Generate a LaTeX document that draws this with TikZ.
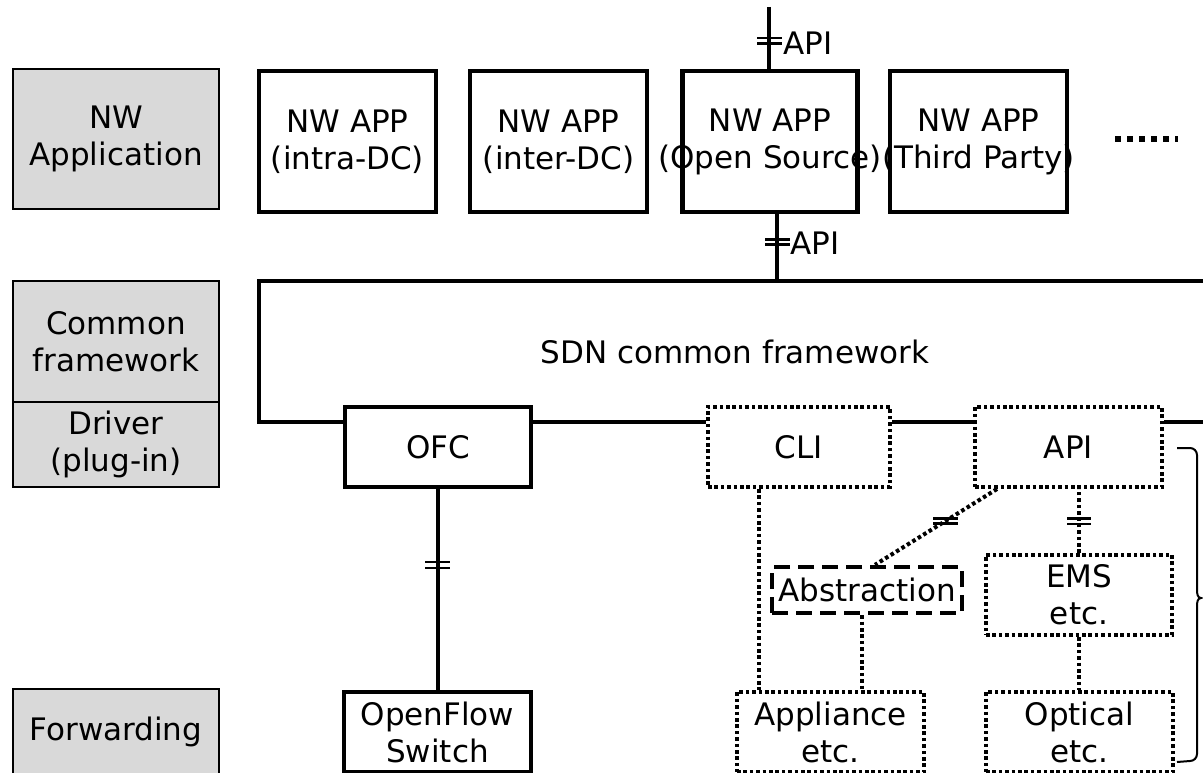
\documentclass[tikz,border=0pt]{standalone}
\usepackage{fontspec}
\setmainfont{DejaVu Sans}
\definecolor{laygray}{HTML}{D9D9D9}
\begin{document}
\begin{tikzpicture}[x=1pt,y=-1pt,
  every node/.style={font=\fontsize{31}{37}\selectfont, align=center, inner sep=0pt},
  layer/.style={draw, line width=1.4pt, fill=laygray, minimum width=206},
  solidbox/.style={draw, line width=4.6pt},
  dotbox/.style={draw, line width=4pt, dash pattern=on 3.6pt off 2.8pt},
  dashbox/.style={draw, line width=4.4pt, dash pattern=on 16pt off 8pt},
  dotline/.style={line width=4pt, dash pattern=on 3.6pt off 2.8pt},
  link/.style={line width=4.4pt},
  tick/.style={line width=2.4pt}]
\useasboundingbox (0,0) rectangle (1203,773);
\clip (0,0) rectangle (1203,773);

% layer labels on the left
\node[layer, minimum height=140] (lnw) at (116,139) {NW\\Application};
\node[layer, minimum height=121] (lcf) at (116,341.5) {Common\\framework};
\node[layer, minimum height=85] (ldrv) at (116,444.5) {Driver\\(plug-in)};
\node[layer, minimum height=86] (lfwd) at (116,732) {Forwarding};

% network applications
\node[solidbox, minimum width=177, minimum height=141] (app1) at (347.5,141.5) {NW APP\\(intra-DC)};
\node[solidbox, minimum width=177, minimum height=141] (app2) at (558.5,141.5) {NW APP\\(inter-DC)};
\node[solidbox, minimum width=175, minimum height=141] (app3) at (770,141.5) {};
\node (app3t) at (app3.center) {NW APP\\(Open Source)};
\node[solidbox, minimum width=177, minimum height=141] (app4) at (978.5,141.5) {};
\node (app4t) at (app4.center) {NW APP\\(Third Party)};
\draw[line width=6pt, dash pattern=on 6pt off 6pt] (1115,139) -- (1178,139);

% northbound API above and below the open source application
\coordinate (apitop) at (769,7);
\draw[link] (apitop) -- (apitop |- app3.north);
\draw[tick] (757,38.3) -- (782,38.3) (757,43.5) -- (782,43.5);
\node[anchor=west] (apilab1) at (783,43.5) {API};

\coordinate (fwtop) at (777,281);
\draw[link] (fwtop |- app3.south) -- (fwtop);
\draw[tick] (765,239.3) -- (790,239.3) (765,244.5) -- (790,244.5);
\node[anchor=west] (apilab2) at (790,243.5) {API};

% driver plug-ins
\node[solidbox, minimum width=186, minimum height=80] (ofc) at (438,447) {OFC};
\node[dotbox, minimum width=182, minimum height=80] (cli) at (799,447) {CLI};
\node[dotbox, minimum width=187, minimum height=80] (api) at (1068.5,447) {API};

% SDN common framework outline
\coordinate (fb) at (0,422);
\draw[link] (1212,281) -- (259,281) -- (259,422) -- (ofc.west |- fb);
\draw[link] (ofc.east |- fb) -- (cli.west |- fb);
\draw[link] (cli.east |- fb) -- (api.west |- fb);
\draw[link] (api.east |- fb) -- (1212,422);
\node (sdn) at (735,352) {SDN common framework};

% lower elements
\node[dashbox, minimum width=190, minimum height=46] (abs) at (867,590) {Abstraction};
\node[dotbox, minimum width=186, minimum height=80] (ems) at (1079,595) {EMS\\etc.};
\node[solidbox, minimum width=187, minimum height=80] (sw) at (437.5,732) {OpenFlow\\Switch};
\node[dotbox, minimum width=187, minimum height=80] (appl) at (830.5,732) {Appliance\\etc.};
\node[dotbox, minimum width=187, minimum height=80] (opt) at (1079.5,732) {Optical\\etc.};

% connections
\draw[link] (ofc.south) -- (ofc.south |- sw.north);
\draw[tick] (425,562.2) -- (450,562.2) (425,567.8) -- (450,567.8);

\coordinate (clix) at (759,0);
\draw[dotline] (cli.south -| clix) -- (appl.north -| clix);
\coordinate (absx) at (862,0);
\draw[dotline] (abs.south -| absx) -- (appl.north -| absx);
\coordinate (diagx) at (997,0);
\coordinate (absdx) at (875,0);
\draw[dotline] (api.south -| diagx) -- (abs.north -| absdx);
\draw[tick] (933,518.3) -- (958,518.3) (933,523.5) -- (958,523.5);
\draw[dotline] (ems.north) -- (ems.north |- api.south);
\draw[tick] (1067,518.5) -- (1091,518.5) (1067,523.7) -- (1091,523.7);
\draw[dotline] (ems.south) -- (ems.south |- opt.north);

% brace grouping the non-OpenFlow devices
\draw[line width=2pt] (1177,448) -- (1190,448) to[out=0,in=90] (1197,455)
  -- (1197,590) to[out=-90,in=180] (1201,598) to[out=180,in=90] (1197,606)
  -- (1197,754) to[out=-90,in=0] (1190,761) -- (1177,762);
\end{tikzpicture}
\end{document}
